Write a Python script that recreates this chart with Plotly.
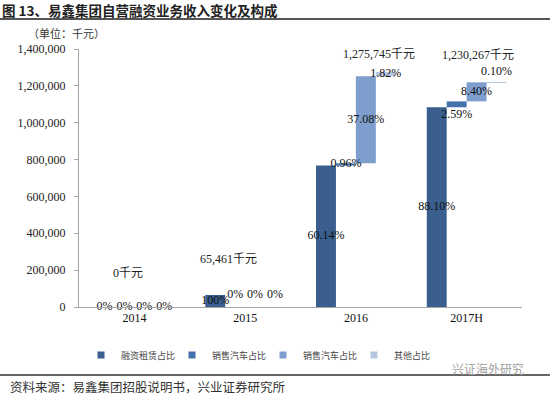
import plotly.graph_objects as go

# ---------------- data ----------------
categories = ["2014", "2015", "2016", "2017H"]
totals = [0, 65461, 1275745, 1230267]
total_labels = ["0千元", "65,461千元", "1,275,745千元", "1,230,267千元"]
series_names = ["融资租赁占比", "销售汽车占比", "销售汽车占比", "其他占比"]
share_financing = [0, 100, 60.14, 88.10]
share_sales_a = [0, 0, 0.96, 2.59]
share_sales_b = [0, 0, 37.08, 8.40]
share_other = [0, 0, 1.82, 0.10]
y_ticks = [0, 200000, 400000, 600000, 800000, 1000000, 1200000, 1400000]

# ---------------- style ----------------
colors = ["#3A5F8F", "#4472AC", "#7E9ECD", "#B8C7E1"]
SERIF = "Liberation Serif, Times New Roman, Noto Sans CJK SC, serif"
CJK = "Noto Sans CJK SC, sans-serif"

W, H = 550, 398
L, R, T, B = 79, 28, 49, 91
PW, PH = W - L - R, H - T - B


def px2x(px):
    return (px - L) / PW


def py2y(py):
    return (H - B - py) / PH


shares = [share_financing, share_sales_a, share_sales_b, share_other]
n_series = len(shares)
slot_w = 0.18
# manual label nudges (series index, category index) -> data units, as in the original
label_nudge = {(1, 3): -60000, (3, 3): 55000}

fig = go.Figure()

cum = [0.0] * len(categories)
text_x, text_y, text_s = [], [], []
for k, sh in enumerate(shares):
    vals = [t * s / 100 for t, s in zip(totals, sh)]
    bases = list(cum)
    xs = [i + (k - (n_series - 1) / 2) * slot_w for i in range(len(categories))]
    fig.add_trace(go.Bar(
        x=xs, y=vals, base=bases, width=slot_w,
        marker=dict(color=colors[k], line=dict(width=0)),
        name=series_names[k], showlegend=False,
        hoverinfo="skip",
    ))
    # legend entry with a small square symbol
    fig.add_trace(go.Scatter(
        x=[None], y=[None], mode="markers", name=series_names[k],
        marker=dict(symbol="square", size=7, color=colors[k]),
        showlegend=True, hoverinfo="skip",
    ))
    for i in range(len(categories)):
        s = sh[i]
        lab = ("%d%%" % s) if float(s).is_integer() else ("%.2f%%" % s)
        text_x.append(xs[i])
        text_y.append(bases[i] + vals[i] / 2 + label_nudge.get((k, i), 0))
        text_s.append(lab)
    cum = [c + v for c, v in zip(cum, vals)]

fig.add_trace(go.Scatter(
    x=text_x, y=text_y, text=text_s, mode="text",
    textfont=dict(family=SERIF, size=12, color="#111111"),
    showlegend=False, hoverinfo="skip", cliponaxis=False,
))

# total labels (placed like the manual boxes of the original)
total_dx = [-0.06, -0.15, 0.21, 0.10]
total_y = [183000, 260000, 1373000, 1366000]
annotations = []
for i, lab in enumerate(total_labels):
    annotations.append(dict(
        x=i + total_dx[i], y=total_y[i], xref="x", yref="y",
        text=lab, showarrow=False,
        font=dict(family=SERIF, size=12, color="#222222"),
    ))

annotations += [
    dict(x=px2x(1), y=py2y(10), xref="paper", yref="paper", xanchor="left", yanchor="middle",
         text="<b>图 13、易鑫集团自营融资业务收入变化及构成</b>", showarrow=False,
         font=dict(family=CJK, size=13.5, color="#222222"), borderpad=0),
    dict(x=px2x(26), y=py2y(33), xref="paper", yref="paper", xanchor="left", yanchor="middle",
         text="（单位：千元）", showarrow=False,
         font=dict(family=CJK, size=11, color="#333333")),
    dict(x=px2x(8), y=py2y(386), xref="paper", yref="paper", xanchor="left", yanchor="middle",
         text="资料来源：易鑫集团招股说明书，兴业证券研究所", showarrow=False,
         font=dict(family=CJK, size=12.5, color="#333333")),
    dict(x=px2x(526), y=py2y(368), xref="paper", yref="paper", xanchor="right", yanchor="middle",
         text="兴证海外研究", showarrow=False,
         font=dict(family=CJK, size=12, color="#A0A0A0")),
]

shapes = [
    dict(type="line", xref="paper", yref="paper", x0=px2x(0), x1=px2x(W), y0=py2y(19), y1=py2y(19),
         line=dict(color="#555555", width=2)),
    dict(type="line", xref="paper", yref="paper", x0=px2x(0), x1=px2x(W), y0=py2y(375), y1=py2y(375),
         line=dict(color="#333333", width=1.5)),
]

fig.update_layout(
    width=W, height=H,
    margin=dict(l=L, r=R, t=T, b=B, pad=0),
    paper_bgcolor="white", plot_bgcolor="white",
    barmode="overlay",
    showlegend=True,
    legend=dict(orientation="h", x=px2x(263), xanchor="center", y=py2y(355), yanchor="middle",
                font=dict(family=CJK, size=9, color="#444444"),
                itemwidth=30, tracegroupgap=0, bgcolor="rgba(0,0,0,0)",
                entrywidth=46, entrywidthmode="pixels"),
    xaxis=dict(range=[-0.5, len(categories) - 0.5], tickvals=list(range(len(categories))),
               ticktext=categories, showline=True, linecolor="#A6A6A6", linewidth=1,
               ticks="", showgrid=False, zeroline=False, fixedrange=True,
               tickfont=dict(family=SERIF, size=12, color="#111111")),
    yaxis=dict(range=[0, 1400000], tickvals=y_ticks, tickformat=",d",
               showline=True, linecolor="#A6A6A6", linewidth=1,
               ticks="outside", ticklen=4, tickcolor="#A6A6A6", ticklabelstandoff=6,
               showgrid=False, zeroline=False, fixedrange=True,
               tickfont=dict(family=SERIF, size=12, color="#222222")),
    annotations=annotations,
    shapes=shapes,
)

fig.write_html("out.html", config={"displayModeBar": False},
               post_script="document.body.style.margin='0';")
